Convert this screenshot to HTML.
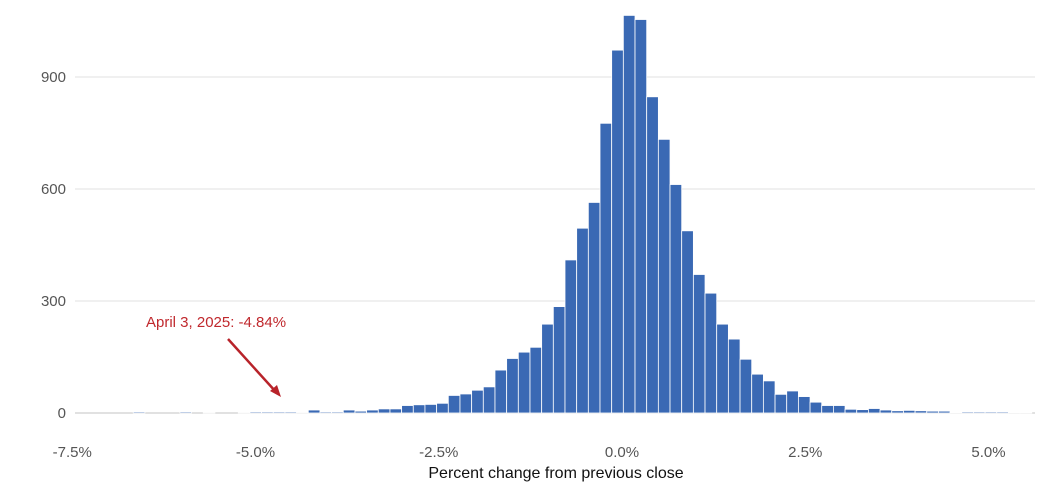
<!DOCTYPE html>
<html><head><meta charset="utf-8"><style>
body{margin:0;background:#fff;}
svg text{font-family:"Liberation Sans",sans-serif;}
</style></head><body>
<svg id="chart" width="1050" height="485" xmlns="http://www.w3.org/2000/svg">
<g id="grid"></g>
<g id="bars"></g>
<g id="yaxis"></g>
<g id="xaxis"></g>
<text x="556" y="478" text-anchor="middle" font-size="16" fill="#111">Percent change from previous close</text>
<g>
<text x="146" y="327" font-size="15" fill="#c0282d">April 3, 2025: -4.84%</text>
<line x1="228" y1="339" x2="276" y2="392" stroke="#b8232a" stroke-width="2.5"/>
<polygon points="281,397 270,391 277,385" fill="#b8232a"/>
</g>
</svg>
<script>
const binStart = -6.668;
const binWidth = 0.1592;
const counts = [3,0,0,0,3,0,1,0,0,1,3,3,3,3,1,8,3,3,8,5,8,11,11,20,22,23,26,47,51,61,70,115,146,163,176,238,285,410,495,564,776,972,1065,1054,847,733,612,488,371,321,238,198,144,104,86,50,59,44,29,20,20,10,9,12,8,6,7,6,5,5,2,3,3,3,3,2,2];
const yTicks = [0,300,600,900];
const xTicks = [-7.5,-5.0,-2.5,0.0,2.5,5.0];
const xTickLabels = ["-7.5%","-5.0%","-2.5%","0.0%","2.5%","5.0%"];

const NS="http://www.w3.org/2000/svg";
function xs(v){return 622+v*73.3;}
function ys(v){return 413-v*0.37333;}
function mk(t,a,p){const e=document.createElementNS(NS,t);for(const k in a)e.setAttribute(k,a[k]);p.appendChild(e);return e;}
const grid=document.getElementById('grid'),bars=document.getElementById('bars'),ya=document.getElementById('yaxis'),xa=document.getElementById('xaxis');
yTicks.forEach(t=>{
  const l=mk('line',{x1:75,x2:1035,y1:ys(t),y2:ys(t),stroke:t===0?'#cfcfcf':'#e6e6e6','stroke-width':1.2},grid);
  
  
  const tx=mk('text',{x:66,y:ys(t)+5,'text-anchor':'end','font-size':15,fill:'#555'},ya);
  tx.textContent=String(t);
  
  
});
xTicks.forEach((t,i)=>{
  const tx=mk('text',{x:xs(t),y:457,'text-anchor':'middle','font-size':15,fill:'#555'},xa);
  tx.textContent=xTickLabels[i];
  
  
});
counts.forEach((c,i)=>{
  if(c<=0)return;
  const x0=xs(binStart+i*binWidth),x1=xs(binStart+(i+1)*binWidth);
  const r=mk('rect',{x:x0,y:ys(c),width:x1-x0,height:ys(0)-ys(c),fill:'#3a69b4',stroke:'#fff','stroke-width':0.8},bars);
  
  
});
</script>
</body></html>
